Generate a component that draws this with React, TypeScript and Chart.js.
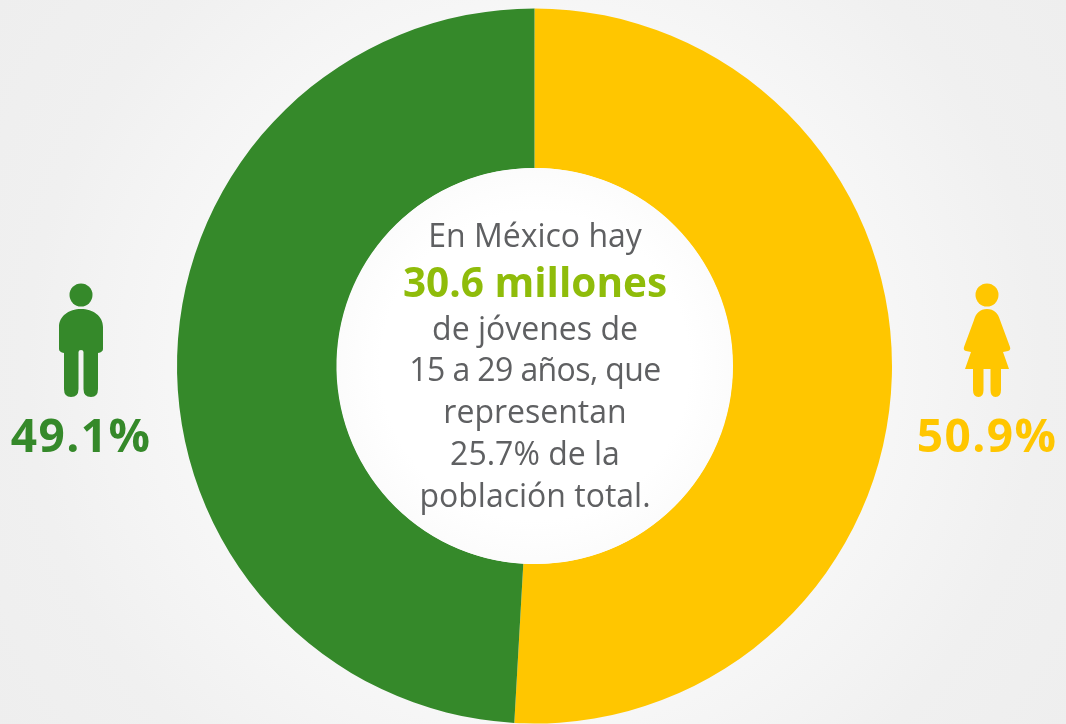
import React, { useEffect, useRef } from "react";
import { Chart, registerables } from "chart.js";

Chart.register(...registerables);

const categories = ["Mujeres", "Hombres"];
const shares = [50.9, 49.1];
const sliceColors = ["#ffc600", "#35892a"];
const centerLines = ["En México hay", "30.6 millones", "de jóvenes de", "15 a 29 años, que", "representan", "25.7% de la", "población total."];
const maleLabel = "49.1%";
const femaleLabel = "50.9%";

const font = "'Open Sans', sans-serif";
const lineCenters = [235, 282, 328, 369, 411, 453, 495];

function Person({ female, color, left }: { female: boolean; color: string; left: number }) {
  return (
    <svg width="60" height="116" viewBox="0 0 60 116" style={{ position: "absolute", left, top: 283 }}>
      <circle cx="30" cy="12" r="11.5" fill={color} />
      {female ? (
        <path
          d="M30 26 C37 26 41 30 43 37 L53 64 Q54 67 51 68 L46 69 L52 86 L44 86 L44 107 Q44 114 38.5 114 Q33.5 114 33.5 107 L33.5 86 L26.5 86 L26.5 107 Q26.5 114 21.5 114 Q16 114 16 107 L16 86 L8 86 L14 69 L9 68 Q6 67 7 64 L17 37 C19 30 23 26 30 26 Z"
          fill={color}
        />
      ) : (
        <path
          d="M30 26 C42 26 52 33 52 44 L52 66 Q52 69 47 70 L47 106 Q47 114 40 114 Q32.5 114 32.5 106 L32.5 69 Q32.5 67 30 67 Q27.5 67 27.5 69 L27.5 106 Q27.5 114 20 114 Q13 114 13 106 L13 70 Q8 69 8 66 L8 44 C8 33 18 26 30 26 Z"
          fill={color}
        />
      )}
    </svg>
  );
}

export default function App() {
  const ref = useRef<HTMLCanvasElement>(null);
  useEffect(() => {
    const chart = new Chart(ref.current!, {
      type: "doughnut",
      data: {
        labels: categories,
        datasets: [{ data: shares, backgroundColor: sliceColors, borderWidth: 0 }],
      },
      options: {
        animation: false,
        responsive: false,
        cutout: "55.4%",
        layout: { padding: { left: 177, right: 174, top: 8.5, bottom: 0.5 } },
        plugins: { legend: { display: false }, tooltip: { enabled: false } },
      },
    });
    return () => chart.destroy();
  }, []);

  const pct = (left: number, color: string, text: string) => (
    <div
      style={{
        position: "absolute", left, top: 401, width: 160, textAlign: "center",
        fontFamily: font, fontWeight: 700, fontSize: 46, letterSpacing: 1.4, lineHeight: "66px",
        whiteSpace: "nowrap", color,
      }}
    >
      {text}
    </div>
  );

  return (
    <div
      style={{
        position: "fixed", left: 0, top: 0, width: 1066, height: 724, overflow: "hidden",
        background: "radial-gradient(circle 650px at 534px 366px, #ffffff 0%, #f9f9f9 45%, #f5f5f5 60%, #f0f0f0 78%, #eeeeee 100%)",
      }}
    >
      <canvas ref={ref} width={1066} height={724} style={{ position: "absolute", left: 0, top: 0, width: 1066, height: 724 }} />
      <div
        style={{
          position: "absolute", left: 336.5, top: 168, width: 396, height: 396, borderRadius: "50%",
          background: "radial-gradient(circle at 50% 50%, #ffffff 55%, #f5f5f5 100%)",
        }}
      />
      {centerLines.map((line, i) => (
        <div
          key={line}
          style={{
            position: "absolute", left: 337, width: 396, top: lineCenters[i] - 24, height: 48, lineHeight: "48px",
            textAlign: "center", whiteSpace: "nowrap", fontFamily: font,
            fontWeight: i === 1 ? 700 : 400, fontSize: i === 1 ? 40.5 : 32,
            letterSpacing: i === 3 ? -0.6 : 0,
            color: i === 1 ? "#8fbc0a" : "#5f6062",
          }}
        >
          {line}
        </div>
      ))}
      <Person female={false} color={sliceColors[1]} left={51} />
      <Person female color={sliceColors[0]} left={957} />
      {pct(1, sliceColors[1], maleLabel)}
      {pct(907, sliceColors[0], femaleLabel)}
    </div>
  );
}
